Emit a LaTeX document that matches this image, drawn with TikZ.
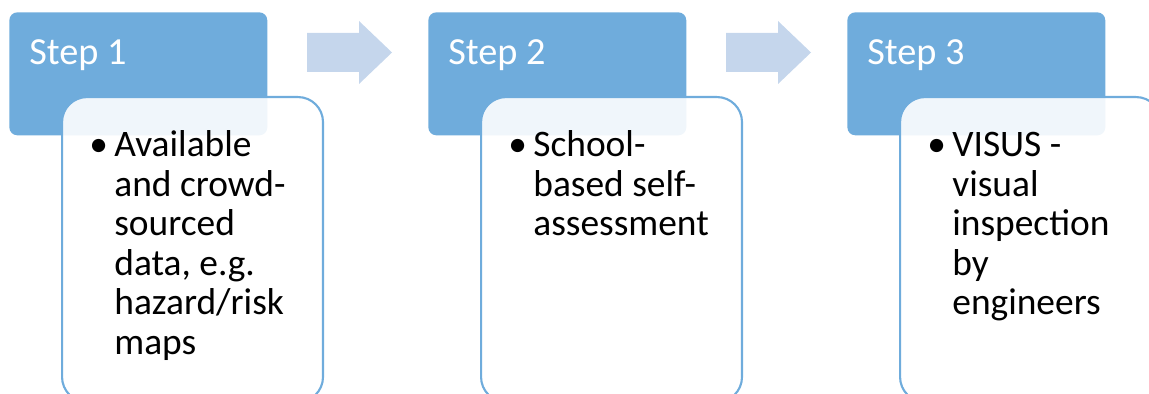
\documentclass[tikz,border=0pt]{standalone}
\usepackage{fontspec}
\setmainfont{Carlito}
\usetikzlibrary{positioning}
\definecolor{stepblue}{RGB}{111,172,220}
\definecolor{arrowblue}{RGB}{197,214,236}

\tikzset{
  stephead/.style={fill=stepblue, rounded corners=0.16cm, minimum width=5.16cm,
    minimum height=2.46cm, anchor=north west, inner sep=0pt},
  stepbody/.style={draw=stepblue, line width=1.2pt, fill=white, fill opacity=0.9,
    rounded corners=0.5cm, minimum width=5.22cm, minimum height=6.1cm,
    anchor=north west, inner sep=0pt},
  steplabel/.style={text=white, font=\fontsize{21.8}{22.5}\selectfont,
    anchor=base west, inner sep=0pt},
  steptext/.style={font=\fontsize{21.3}{22.5}\selectfont, align=left,
    anchor=base west, inner sep=0pt},
  steparrow/.style={fill=arrowblue}
}

\begin{document}
\begin{tikzpicture}[x=0.02cm, y=-0.02cm]
  \clip (0,0) rectangle (1149,394);

  % header boxes
  \node[stephead] (h1) at (9,12) {};
  \node[stephead] (h2) at (428,12) {};
  \node[stephead] (h3) at (847,12) {};
  \node[steplabel] (l1) at (29,65) {Step 1};
  \node[steplabel] (l2) at (448,65) {Step 2};
  \node[steplabel] (l3) at (867,65) {Step 3};

  % content boxes, laid over the headers
  \node[stepbody] (b1) at (61,96) {};
  \node[stepbody] (b2) at (480,96) {};
  \node[stepbody] (b3) at (899,96) {};

  % bullets and texts (base = last line)
  \node[steptext] (d1) at (89,157) {•};
  \node[steptext] (t1) at (114,354.5) {Available\\and crowd-\\sourced\\data, e.g.\\hazard/risk\\maps};
  \node[steptext] (d2) at (508,157) {•};
  \node[steptext] (t2) at (533,236) {School-\\based self-\\assessment};
  \node[steptext] (d3) at (927,157) {•};
  \node[steptext] (t3) at (952,315) {VISUS -\\visual\\inspection\\by\\engineers};

  % arrows between the steps
  \fill[steparrow] (307,33) -- (359,33) -- (359,21) -- (392,52.5)
    -- (359,84) -- (359,72) -- (307,72) -- cycle;
  \fill[steparrow] (726,33) -- (778,33) -- (778,21) -- (811,52.5)
    -- (778,84) -- (778,72) -- (726,72) -- cycle;
\end{tikzpicture}
\end{document}
